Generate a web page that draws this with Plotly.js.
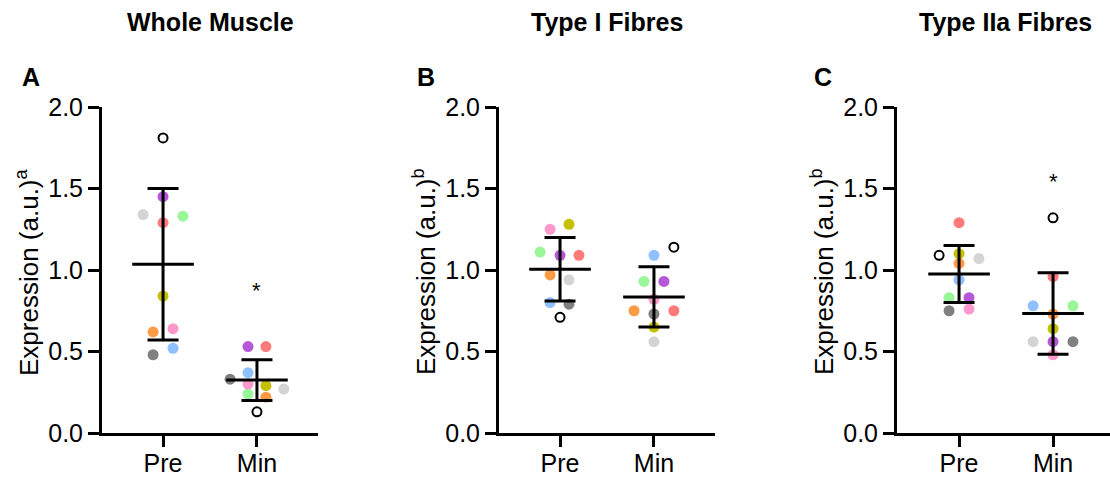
<!DOCTYPE html>
<html>
<head>
<meta charset="utf-8">
<script src="https://cdn.plot.ly/plotly-3.0.1.min.js"></script>
<style>html,body{margin:0;padding:0;background:#fff;}#chart{width:1110px;height:480px;}</style>
</head>
<body>
<div id="chart"></div>
<script>
// ---- data ----
var panelTitles = ['Whole Muscle', 'Type I Fibres', 'Type IIa Fibres'];
var panelLetters = ['A', 'B', 'C'];
var yTitles = ['Expression (a.u.)<sup>a</sup>', 'Expression (a.u.)<sup>b</sup>', 'Expression (a.u.)<sup>b</sup>'];
var groups = ['Pre', 'Min'];
// subject order: open, purple, lightgrey, red, green, olive, orange, pink, blue, darkgrey
var subjects = ['S1', 'S2', 'S3', 'S4', 'S5', 'S6', 'S7', 'S8', 'S9', 'S10'];

var wholePre  = [1.81, 1.45, 1.34, 1.29, 1.33, 0.84, 0.62, 0.64, 0.52, 0.48];
var wholeMin  = [0.13, 0.53, 0.27, 0.53, 0.24, 0.29, 0.22, 0.30, 0.37, 0.33];
var typeIPre  = [0.71, 1.09, 0.94, 1.09, 1.11, 1.28, 0.97, 1.25, 0.80, 0.79];
var typeIMin  = [1.14, 0.93, 0.56, 0.75, 0.93, 0.65, 0.75, 0.82, 1.09, 0.73];
var typeIIaPre = [1.09, 0.83, 1.07, 1.29, 0.83, 1.10, 1.04, 0.76, 0.94, 0.75];
var typeIIaMin = [1.32, 0.56, 0.56, 0.96, 0.78, 0.64, 0.73, 0.48, 0.78, 0.56];

var meanValues = [[1.035, 0.325], [1.005, 0.835], [0.975, 0.733]];
var sdValues   = [[0.465, 0.125], [0.195, 0.185], [0.175, 0.250]];

var starGroup  = [1, null, 1];
var starValues = [0.89, null, 1.56];

// ---- positions / styles (not data) ----
var jitter = [
  [[0, 0, -2, 0, 2, 0, -1, 1, 1, -1], [0, -0.9, 2.7, 0.9, -0.9, 0.9, 0.9, -0.9, -0.9, -2.7]],
  [[0, 0, 0.9, 1.9, -2, 0.9, -1, -1, -1, 0.9], [2, 1, 0, 2, -1, 0, -2, 0, 0, 0]],
  [[-2, 1, 2, 0, -1, 0, 0, 1, 0, -1], [0, 0, -2, 0, 2, 0, 0, 0, -2, 2]]
];
var jitterStep = 0.106;
var subjColors = [null, '#b657d8', '#d4d4d4', '#ff7b7b', '#99f799', '#c4c000', '#ff9a45', '#ff99cc', '#8fc0ff', '#808080'];

var values = [[wholePre, wholeMin], [typeIPre, typeIMin], [typeIIaPre, typeIIaMin]];

var FONT = 'Arial, "Liberation Sans", Helvetica, sans-serif';
var W = 1110, H = 480, T = 107, B = 47;
var domains = [[102 / W, 318 / W], [499 / W, 715 / W], [897 / W, 1]];
var xRanges = [[-0.65, 1.65], [-0.65, 1.65], [-0.66, 1.606]];
var yTitleX = [27, 424, 822];

var traces = [];
var layout = {
  width: W, height: H,
  margin: {l: 0, r: 0, t: T, b: B, pad: 0},
  paper_bgcolor: '#ffffff', plot_bgcolor: '#ffffff',
  showlegend: false,
  font: {family: FONT, color: '#000', size: 24},
  annotations: []
};
function py(p) { return (H - B - p) / (H - T - B); }

for (var k = 0; k < 3; k++) {
  var sfx = k === 0 ? '' : String(k + 1);
  var xa = 'x' + sfx, ya = 'y' + sfx;
  for (var g = 0; g < 2; g++) {
    var vals = values[k][g];
    var filledX = [], filledY = [], filledC = [], openX = [], openY = [];
    for (var i = 0; i < vals.length; i++) {
      var xv = g + jitter[k][g][i] * jitterStep;
      if (subjColors[i] === null) { openX.push(xv); openY.push(vals[i]); }
      else { filledX.push(xv); filledY.push(vals[i]); filledC.push(subjColors[i]); }
    }
    traces.push({x: filledX, y: filledY, xaxis: xa, yaxis: ya, type: 'scatter', mode: 'markers',
      marker: {size: 11, color: filledC, line: {width: 0}}, hoverinfo: 'y'});
    traces.push({x: openX, y: openY, xaxis: xa, yaxis: ya, type: 'scatter', mode: 'markers',
      marker: {size: 9, symbol: 'circle-open', color: '#000', line: {width: 2, color: '#000'}}, hoverinfo: 'y'});
  }
  traces.push({x: [0, 1], y: meanValues[k], xaxis: xa, yaxis: ya, type: 'scatter', mode: 'markers',
    marker: {symbol: 'line-ew', size: 44, color: '#000', line: {width: 3, color: '#000'}},
    error_y: {type: 'data', array: sdValues[k], visible: true, color: '#000', thickness: 3, width: 15.5},
    hoverinfo: 'y'});
  if (starGroup[k] !== null) {
    layout.annotations.push({xref: xa, yref: ya, x: starGroup[k], y: starValues[k], text: '*',
      showarrow: false, font: {family: FONT, size: 22, color: '#000'}, xanchor: 'center', yanchor: 'middle', yshift: -3});
  }
  layout['xaxis' + sfx] = {domain: domains[k], range: xRanges[k], anchor: ya,
    tickvals: [0, 1], ticktext: groups, showline: true, linewidth: 3, linecolor: '#000',
    ticks: 'outside', ticklen: 11, tickwidth: 3, tickcolor: '#000', showgrid: false, zeroline: false,
    ticklabelstandoff: -5,
    tickfont: {family: FONT, size: 25, color: '#000'}, fixedrange: true};
  layout['yaxis' + sfx] = {domain: [0, 1], range: [0, 2], anchor: xa, tickvals: [0, 0.5, 1, 1.5, 2],
    tickformat: '.1f', showline: true, linewidth: 3, linecolor: '#000', ticks: 'outside', ticklen: 11,
    tickwidth: 3, tickcolor: '#000', showgrid: false, zeroline: false,
    tickfont: {family: FONT, size: 25, color: '#000'}, fixedrange: true};
  var cx = (domains[k][0] + domains[k][1]) / 2;
  if (k === 2) cx = (897 + 1113) / 2 / W;
  layout.annotations.push({xref: 'paper', yref: 'paper', x: cx, y: py(22), text: '<b>' + panelTitles[k] + '</b>',
    showarrow: false, font: {family: FONT, size: 25, color: '#000'}, xanchor: 'center', yanchor: 'middle'});
  layout.annotations.push({xref: 'paper', yref: 'paper', x: [31, 426, 823][k] / W, y: py(77), text: '<b>' + panelLetters[k] + '</b>',
    showarrow: false, font: {family: FONT, size: 25, color: '#000'}, xanchor: 'center', yanchor: 'middle'});
  layout.annotations.push({xref: 'paper', yref: 'paper', x: yTitleX[k] / W, y: py(272), text: yTitles[k], textangle: -90,
    showarrow: false, font: {family: FONT, size: 26, color: '#000'}, xanchor: 'center', yanchor: 'middle'});
}

Plotly.newPlot('chart', traces, layout, {staticPlot: true, displayModeBar: false});
</script>
</body>
</html>
